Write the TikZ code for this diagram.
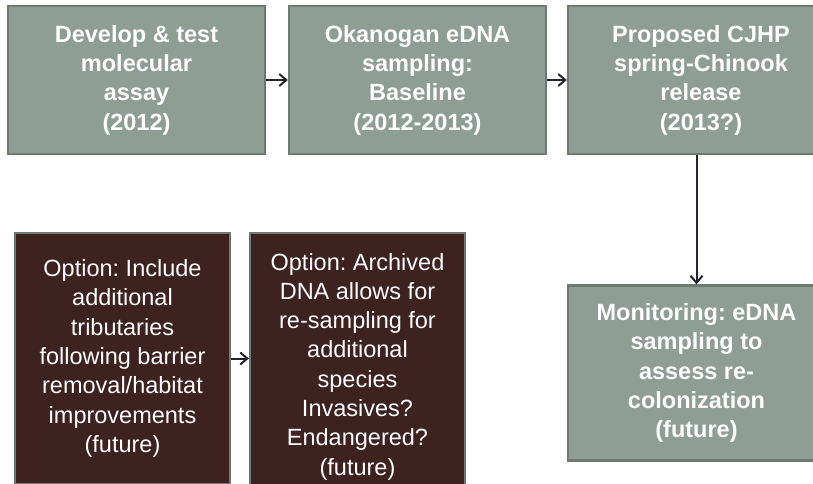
\documentclass[tikz,border=0pt]{standalone}
\usepackage{fontspec}
\setmainfont{Liberation Sans}
\frenchspacing
\usetikzlibrary{arrows.meta,calc}
\definecolor{sage}{HTML}{8E9E94}
\definecolor{sageedge}{HTML}{6C7A70}
\definecolor{brownbox}{HTML}{3D2220}
\definecolor{arrowc}{HTML}{22232E}
\begin{document}
\begin{tikzpicture}[x=1pt,y=-1pt,
  greybox/.style={draw=sageedge, fill=sage, line width=2.4pt, inner sep=0pt,
    text=white, align=center, font=\fontsize{23.5}{29.3}\selectfont\bfseries},
  brownbx/.style={draw=sageedge, fill=brownbox, line width=2.4pt, inner sep=0pt,
    text=white, align=center, font=\fontsize{23.5}{29.3}\selectfont},
  conn/.style={draw=arrowc, line width=2pt, -{Straight Barb[length=7pt,width=12pt,line width=2pt]}}
]
\useasboundingbox (0,0) rectangle (813,483);
\node[greybox, minimum width=257pt, minimum height=148pt] (b1) at (136.5,80)
  {Develop \& test\\molecular\\assay\\(2012)};
\node[greybox, minimum width=257pt, minimum height=148pt] (b2) at (417.5,80)
  {Okanogan eDNA\\sampling:\\Baseline\\(2012-2013)};
\node[greybox, minimum width=266pt, minimum height=148pt] (b3) at (701,80)
  {Proposed CJHP\\spring-Chinook\\release\\(2013?)};
\node[greybox, minimum width=257pt, minimum height=175pt] (mon) at (696.5,373)
  {Monitoring: eDNA\\sampling to\\assess re-\\colonization\\(future)};
\node[brownbx, minimum width=215pt, minimum height=251pt] (o1) at (122.5,358.5)
  {Option: Include\\additional\\tributaries\\following barrier\\removal/habitat\\improvements\\(future)};
\node[brownbx, minimum width=215pt, minimum height=267pt] (o2) at (357.5,366.5)
  {Option: Archived\\DNA allows for\\re-sampling for\\additional\\species\\Invasives?\\Endangered?\\(future)};
\draw[conn] (b1.east) -- (b2.west);
\draw[conn] (b2.east) -- (b3.west);
\draw[conn] (b3.south -| mon.north) -- (mon.north);
\draw[conn] (o1.east) -- (o1.east -| o2.west);
\end{tikzpicture}
\end{document}
